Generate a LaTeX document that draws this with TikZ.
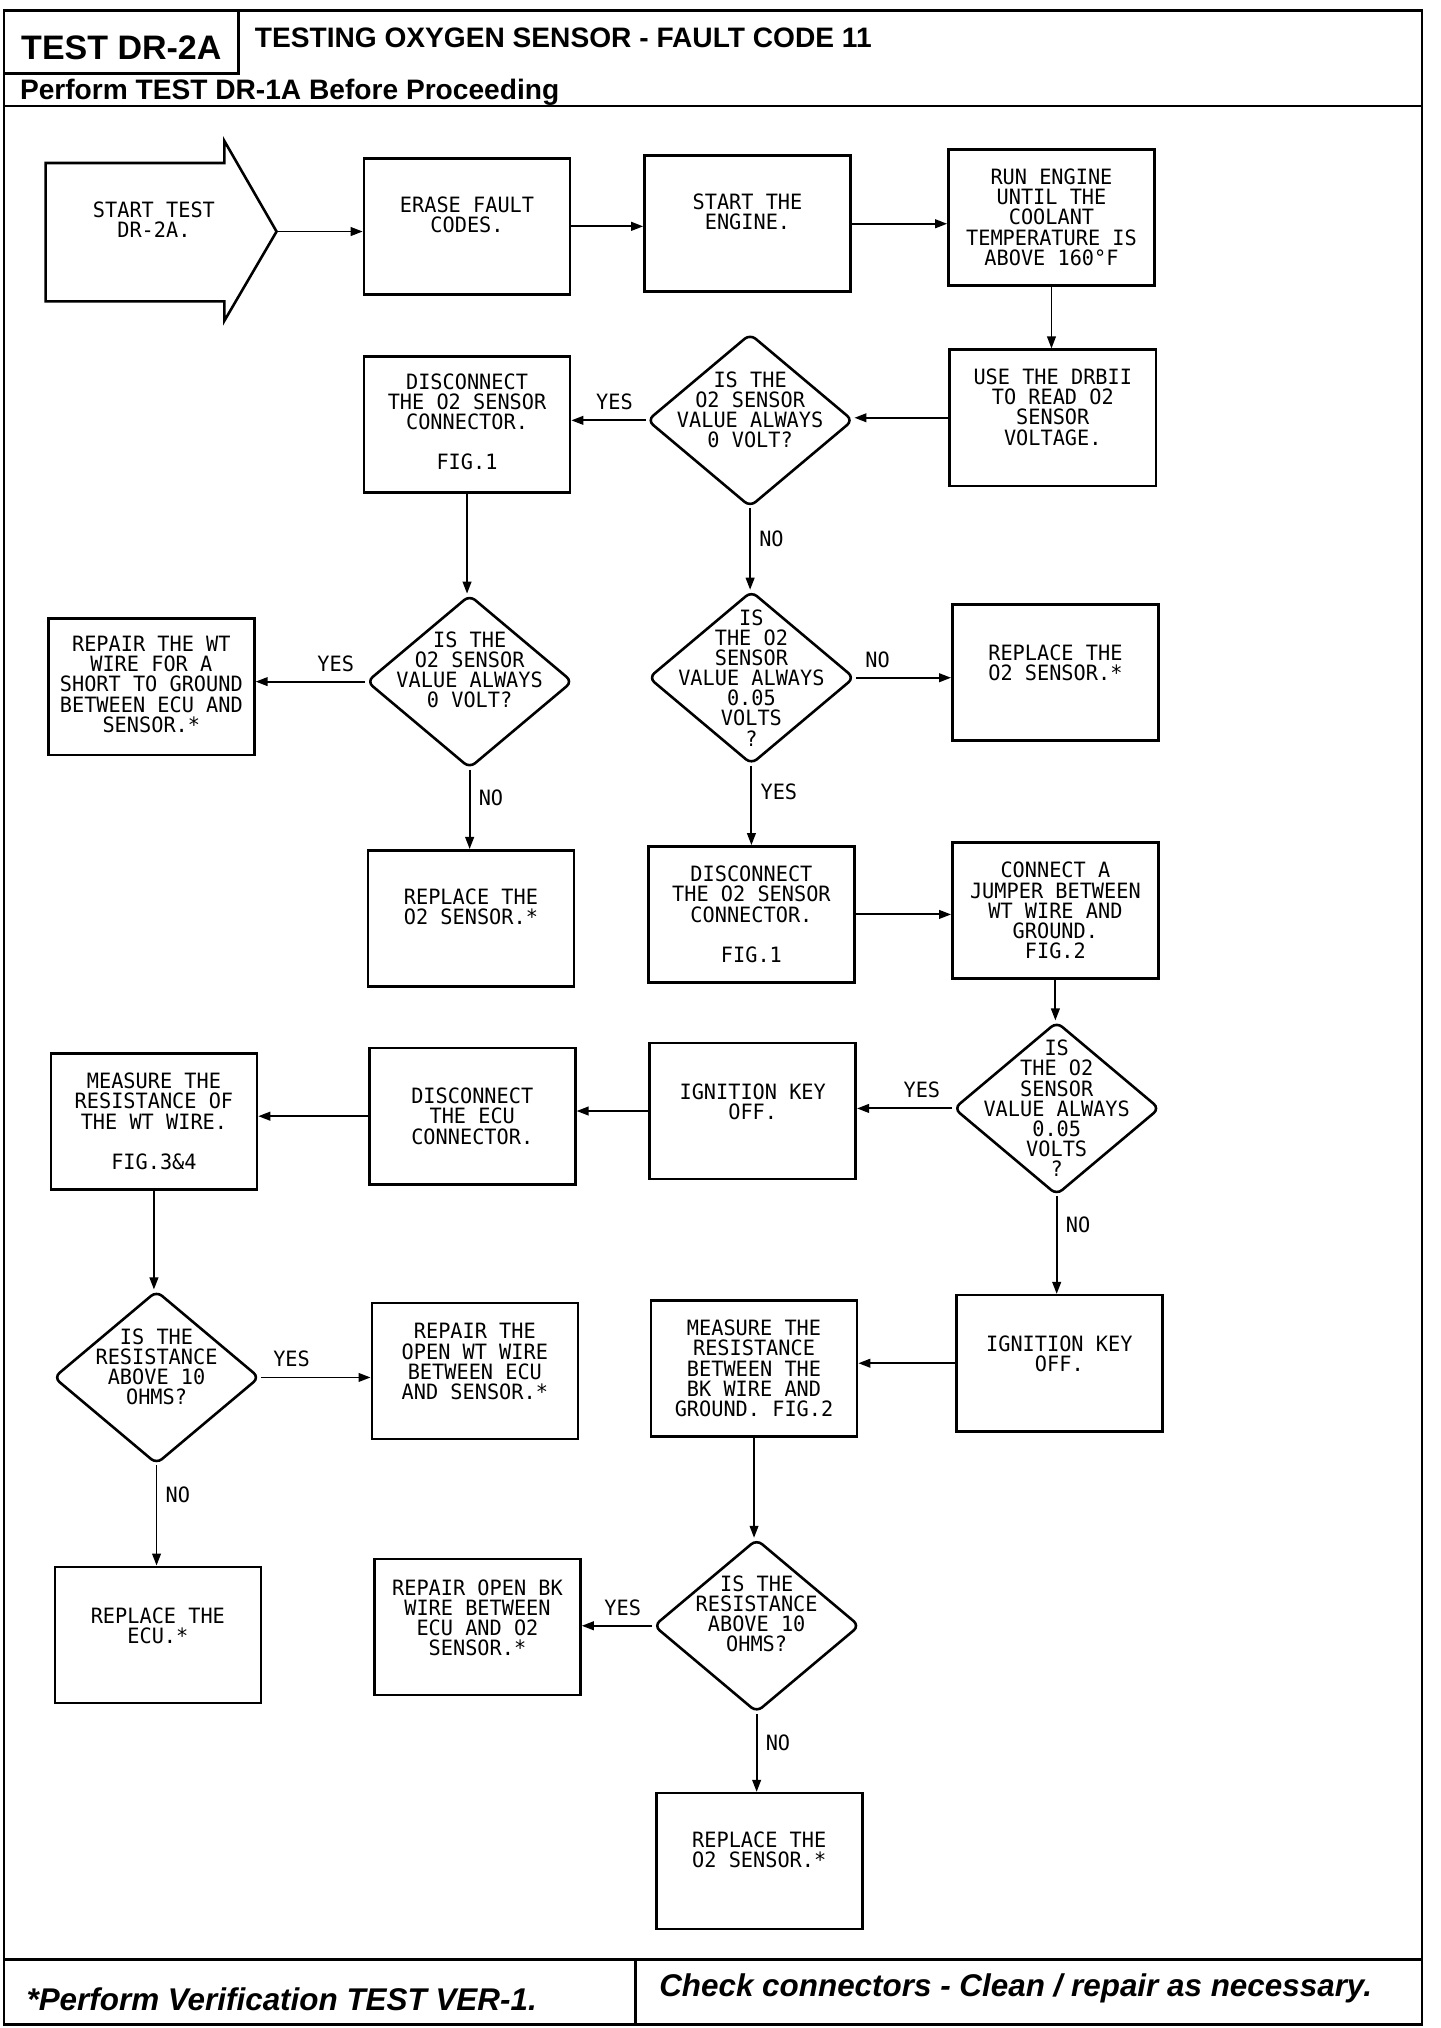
\documentclass[tikz,border=0pt]{standalone}
\usepackage{fontspec}
\setmainfont{Liberation Sans}
\newfontfamily\plotfont[FakeStretch=0.96]{DejaVu Sans Mono}
\usetikzlibrary{shapes.geometric}
\usetikzlibrary{arrows.meta}

\tikzset{
  box/.style={draw, line width=1.1pt, minimum width=3.09cm, minimum height=2.04cm, inner sep=0pt},
  dec/.style={draw, diamond, line width=1.1pt, minimum width=3.09cm, minimum height=2.6cm, inner sep=0pt, rounded corners=3pt},
  txt/.style={align=center, inner sep=0pt, font=\plotfont\fontsize{9}{8.6}\selectfont},
  yn/.style={inner sep=1pt, font=\plotfont\fontsize{9}{9}\selectfont},
  flow/.style={line width=0.8pt, -{Triangle[length=1.8mm,width=1.3mm]}},
  rule/.style={line width=1.2pt},
  hdr/.style={inner sep=0pt, font=\bfseries\fontsize{12}{12}\selectfont},
  hdrbig/.style={inner sep=0pt, font=\bfseries\fontsize{14.5}{14.5}\selectfont},
  foot/.style={inner sep=0pt, font=\bfseries\itshape\fontsize{13.4}{13.4}\selectfont},
}

\begin{document}
\begin{tikzpicture}[x=0.019565cm, y=-0.0194cm]
    \useasboundingbox (0,0) rectangle (1104,1568);

    % frame and header
    \draw[rule] (3,8) rectangle (1090,1565);
    \draw[rule] (183,8) -- (183,57) -- (3,57);
    \draw[rule] (3,82) -- (1090,82);
    \draw[rule] (3,1515) -- (1090,1515);
    \draw[rule] (487,1515) -- (487,1565);
    \node[hdrbig] (testid) at (93,37) {TEST DR-2A};
    \node[hdr, anchor=west] (title) at (195,29) {TESTING OXYGEN SENSOR - FAULT CODE 11};
    \node[hdr, anchor=west] (before) at (15,71) {Perform TEST DR-1A Before Proceeding};
    \node[foot, anchor=west] (verify) at (20,1546) {*Perform Verification TEST VER-1.};
    \node[foot, anchor=west] (check) at (505,1537) {Check connectors - Clean / repair as necessary.};

    % start
    \draw[line width=1.1pt] (35,126) -- (172,126) -- (172,109) -- (212,179) -- (172,248) -- (172,233) -- (35,233) -- cycle;
    \node[txt] (start-t) at (118,170) {START TEST\\DR-2A.};
    \coordinate (start) at (212,179);

    % row 1
    \node[box] (erase) at (358,175) {};
    \node[txt] (erase-t) at ([yshift=5pt]erase) {ERASE FAULT\\CODES.};
    \node[box] (engine) at (573,173) {};
    \node[txt] (engine-t) at ([yshift=5pt]engine) {START THE\\ENGINE.};
    \node[box] (run) at (806,168) {};
    \node[txt] (run-t) at (run) {RUN ENGINE\\UNTIL THE\\COOLANT\\TEMPERATURE IS\\ABOVE 160°F};

    % row 2
    \node[box] (drb) at (807,323) {};
    \node[txt] (drb-t) at ([yshift=4.5pt]drb) {USE THE DRBII\\TO READ O2\\SENSOR\\VOLTAGE.};
    \node[dec] (d1) at (575,325) {};
    \node[txt] (d1-t) at ([yshift=4.5pt]d1) {IS THE\\O2 SENSOR\\VALUE ALWAYS\\0 VOLT?};
    \node[box] (dis1) at (358,328) {};
    \node[txt] (dis1-t) at ([yshift=1pt]dis1) {DISCONNECT\\THE O2 SENSOR\\CONNECTOR.\\[8.6pt]FIG.1};

    % row 3
    \node[dec] (d2) at (360,527) {};
    \node[txt] (d2-t) at ([yshift=5pt]d2) {IS THE\\O2 SENSOR\\VALUE ALWAYS\\0 VOLT?};
    \node[box] (wt) at (116,531) {};
    \node[txt] (wt-t) at ([yshift=1pt]wt) {REPAIR THE WT\\WIRE FOR A\\SHORT TO GROUND\\BETWEEN ECU AND\\SENSOR.*};
    \node[dec] (d3) at (576,524) {};
    \node[txt] (d3-t) at (d3) {IS\\THE O2\\SENSOR\\VALUE ALWAYS\\0.05\\VOLTS\\?};
    \node[box] (rep1) at (809,520) {};
    \node[txt] (rep1-t) at ([yshift=4pt]rep1) {REPLACE THE\\O2 SENSOR.*};

    % row 4
    \node[box] (rep2) at (361,710) {};
    \node[txt] (rep2-t) at ([yshift=5pt]rep2) {REPLACE THE\\O2 SENSOR.*};
    \node[box] (dis2) at (576,707) {};
    \node[txt] (dis2-t) at (dis2) {DISCONNECT\\THE O2 SENSOR\\CONNECTOR.\\[8.6pt]FIG.1};
    \node[box] (jump) at (809,704) {};
    \node[txt] (jump-t) at (jump) {CONNECT A\\JUMPER BETWEEN\\WT WIRE AND\\GROUND.\\FIG.2};

    % row 5
    \node[dec] (d4) at (810,857) {};
    \node[txt] (d4-t) at (d4) {IS\\THE O2\\SENSOR\\VALUE ALWAYS\\0.05\\VOLTS\\?};
    \node[box] (ign1) at (577,859) {};
    \node[txt] (ign1-t) at ([yshift=4pt]ign1) {IGNITION KEY\\OFF.};
    \node[box] (decu) at (362,863) {};
    \node[txt] (decu-t) at (decu) {DISCONNECT\\THE ECU\\CONNECTOR.};
    \node[box] (mwt) at (118,867) {};
    \node[txt] (mwt-t) at (mwt) {MEASURE THE\\RESISTANCE OF\\THE WT WIRE.\\[8.6pt]FIG.3\&4};

    % row 6
    \node[dec] (d5) at (120,1065) {};
    \node[txt] (d5-t) at ([yshift=4.5pt]d5) {IS THE\\RESISTANCE\\ABOVE 10\\OHMS?};
    \node[box] (owt) at (364,1060) {};
    \node[txt] (owt-t) at ([yshift=4pt]owt) {REPAIR THE\\OPEN WT WIRE\\BETWEEN ECU\\AND SENSOR.*};
    \node[box] (mbk) at (578,1058) {};
    \node[txt] (mbk-t) at (mbk) {MEASURE THE\\RESISTANCE\\BETWEEN THE\\BK WIRE AND\\GROUND. FIG.2};
    \node[box] (ign2) at (812,1054) {};
    \node[txt] (ign2-t) at ([yshift=4pt]ign2) {IGNITION KEY\\OFF.};

    % row 7
    \node[box] (recu) at (121,1264) {};
    \node[txt] (recu-t) at ([yshift=4pt]recu) {REPLACE THE\\ECU.*};
    \node[box] (rbk) at (366,1258) {};
    \node[txt] (rbk-t) at ([yshift=4pt]rbk) {REPAIR OPEN BK\\WIRE BETWEEN\\ECU AND O2\\SENSOR.*};
    \node[dec] (d6) at (580,1257) {};
    \node[txt] (d6-t) at ([yshift=5pt]d6) {IS THE\\RESISTANCE\\ABOVE 10\\OHMS?};

    % row 8
    \node[box] (rep3) at (582,1439) {};
    \node[txt] (rep3-t) at ([yshift=5pt]rep3) {REPLACE THE\\O2 SENSOR.*};

    % connectors
    \draw[flow] (start) -- (start -| erase.west);
    \draw[flow] (erase.east) -- (erase.east -| engine.west);
    \draw[flow] (engine.east) -- (engine.east -| run.west);
    \draw[flow] (run.south) -- (run.south |- drb.north);
    \draw[flow] (drb.west) -- (drb.west -| d1.east);
    \draw[flow] (d1.west) -- (d1.west -| dis1.east) node[yn, pos=0.42, above=3pt] {YES};
    \draw[flow] (d1.south) -- (d1.south |- d3.north) node[yn, pos=0.38, right=2.5pt] {NO};
    \draw[flow] (dis1.south) -- (dis1.south |- d2.north);
    \draw[flow] (d2.west) -- (d2.west -| wt.east) node[yn, pos=0.27, above=3pt] {YES};
    \draw[flow] (d2.south) -- (d2.south |- rep2.north) node[yn, pos=0.35, right=2.5pt] {NO};
    \draw[flow] (d3.east) -- (d3.east -| rep1.west) node[yn, pos=0.23, above=3pt] {NO};
    \draw[flow] (d3.south) -- (d3.south |- dis2.north) node[yn, pos=0.33, right=2.5pt] {YES};
    \draw[flow] (dis2.east) -- (dis2.east -| jump.west);
    \draw[flow] (jump.south) -- (jump.south |- d4.north);
    \draw[flow] (d4.west) -- (d4.west -| ign1.east) node[yn, pos=0.32, above=3pt] {YES};
    \draw[flow] (d4.south) -- (d4.south |- ign2.north) node[yn, pos=0.29, right=2.5pt] {NO};
    \draw[flow] (ign1.west) -- (ign1.west -| decu.east);
    \draw[flow] (decu.west) -- (decu.west -| mwt.east);
    \draw[flow] (mwt.south) -- (mwt.south |- d5.north);
    \draw[flow] (d5.east) -- (d5.east -| owt.west) node[yn, pos=0.28, above=3pt] {YES};
    \draw[flow] (d5.south) -- (d5.south |- recu.north) node[yn, pos=0.29, right=2.5pt] {NO};
    \draw[flow] (ign2.west) -- (ign2.west -| mbk.east);
    \draw[flow] (mbk.south) -- (mbk.south |- d6.north);
    \draw[flow] (d6.west) -- (d6.west -| rbk.east) node[yn, pos=0.42, above=3pt] {YES};
    \draw[flow] (d6.south) -- (d6.south |- rep3.north) node[yn, pos=0.37, right=2.5pt] {NO};
\end{tikzpicture}
\end{document}
